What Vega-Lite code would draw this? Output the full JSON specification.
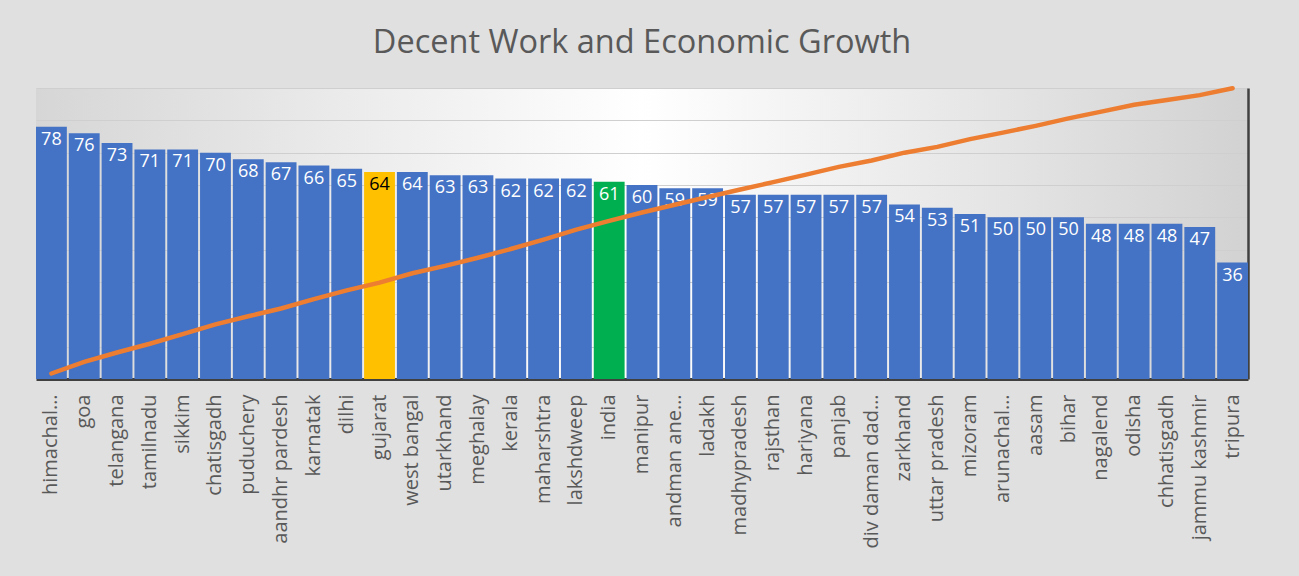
{
  "$schema": "https://vega.github.io/schema/vega-lite/v6.json",
  "width": 1212,
  "height": 291,
  "padding": {"left": 35, "top": 26, "right": 51, "bottom": 32},
  "background": "#e0e0e0",
  "title": {
    "text": "Decent Work and Economic Growth",
    "font": "Open Sans",
    "fontSize": 32.5,
    "fontWeight": "normal",
    "color": "#595959",
    "anchor": "middle",
    "offset": 20
  },
  "config": {
    "view": {
      "stroke": null,
      "fill": {
        "gradient": "linear",
        "x1": 0, "y1": 0, "x2": 1, "y2": 0,
        "stops": [
          {"offset": 0, "color": "#d6d6d6"},
          {"offset": 0.5, "color": "#ffffff"},
          {"offset": 1, "color": "#d2d2d2"}
        ]
      }
    }
  },
  "data": {
    "values": [
      {"name": "himachal…", "score": 78, "trend": 1.7, "highlight": "state"},
      {"name": "goa", "score": 76, "trend": 5.3, "highlight": "state"},
      {"name": "telangana", "score": 73, "trend": 8.2, "highlight": "state"},
      {"name": "tamilnadu", "score": 71, "trend": 10.9, "highlight": "state"},
      {"name": "sikkim", "score": 71, "trend": 13.9, "highlight": "state"},
      {"name": "chatisgadh", "score": 70, "trend": 16.9, "highlight": "state"},
      {"name": "puduchery", "score": 68, "trend": 19.4, "highlight": "state"},
      {"name": "aandhr pardesh", "score": 67, "trend": 21.8, "highlight": "state"},
      {"name": "karnatak", "score": 66, "trend": 24.7, "highlight": "state"},
      {"name": "dilhi", "score": 65, "trend": 27.4, "highlight": "state"},
      {"name": "gujarat", "score": 64, "trend": 29.8, "highlight": "gujarat"},
      {"name": "west bangal", "score": 64, "trend": 32.7, "highlight": "state"},
      {"name": "utarkhand", "score": 63, "trend": 35.0, "highlight": "state"},
      {"name": "meghalay", "score": 63, "trend": 37.5, "highlight": "state"},
      {"name": "kerala", "score": 62, "trend": 40.2, "highlight": "state"},
      {"name": "maharshtra", "score": 62, "trend": 43.1, "highlight": "state"},
      {"name": "lakshdweep", "score": 62, "trend": 46.2, "highlight": "state"},
      {"name": "india", "score": 61, "trend": 48.9, "highlight": "india"},
      {"name": "manipur", "score": 60, "trend": 51.5, "highlight": "state"},
      {"name": "andman ane…", "score": 59, "trend": 53.9, "highlight": "state"},
      {"name": "ladakh", "score": 59, "trend": 56.3, "highlight": "state"},
      {"name": "madhypradesh", "score": 57, "trend": 58.6, "highlight": "state"},
      {"name": "rajsthan", "score": 57, "trend": 60.9, "highlight": "state"},
      {"name": "hariyana", "score": 57, "trend": 63.2, "highlight": "state"},
      {"name": "panjab", "score": 57, "trend": 65.6, "highlight": "state"},
      {"name": "div daman dad…", "score": 57, "trend": 67.6, "highlight": "state"},
      {"name": "zarkhand", "score": 54, "trend": 70.0, "highlight": "state"},
      {"name": "uttar pradesh", "score": 53, "trend": 71.8, "highlight": "state"},
      {"name": "mizoram", "score": 51, "trend": 74.2, "highlight": "state"},
      {"name": "arunachal…", "score": 50, "trend": 76.2, "highlight": "state"},
      {"name": "aasam", "score": 50, "trend": 78.3, "highlight": "state"},
      {"name": "bihar", "score": 50, "trend": 80.6, "highlight": "state"},
      {"name": "nagalend", "score": 48, "trend": 82.7, "highlight": "state"},
      {"name": "odisha", "score": 48, "trend": 84.8, "highlight": "state"},
      {"name": "chhatisgadh", "score": 48, "trend": 86.3, "highlight": "state"},
      {"name": "jammu kashmir", "score": 47, "trend": 87.8, "highlight": "state"},
      {"name": "tripura", "score": 36, "trend": 89.9, "highlight": "state"}
    ]
  },
  "encoding": {
    "x": {
      "field": "name",
      "type": "nominal",
      "sort": null,
      "scale": {"paddingInner": 0.06, "paddingOuter": 0},
      "axis": {
        "title": null,
        "labelAngle": -90,
        "ticks": false,
        "labelPadding": 15,
        "labelFont": "Open Sans",
        "labelFontSize": 20,
        "labelColor": "#595959",
        "labelLimit": 300,
        "domainColor": "#404040",
        "domainWidth": 3,
        "grid": false
      }
    }
  },
  "layer": [
    {
      "mark": {"type": "bar"},
      "encoding": {
        "y": {
          "field": "score",
          "type": "quantitative",
          "scale": {"domain": [0, 90], "nice": false},
          "axis": {
            "title": null,
            "labels": false,
            "ticks": false,
            "domain": false,
            "grid": true,
            "gridColor": "#cfcfcf",
            "gridWidth": 1.2,
            "values": [10, 20, 30, 40, 50, 60, 70, 80, 90]
          }
        },
        "color": {
          "field": "highlight",
          "type": "nominal",
          "scale": {"domain": ["state", "gujarat", "india"], "range": ["#4472C4", "#FFC000", "#00B050"]},
          "legend": null
        }
      }
    },
    {
      "mark": {"type": "text", "baseline": "top", "dy": 4, "font": "Open Sans", "fontSize": 18},
      "encoding": {
        "y": {"field": "score", "type": "quantitative", "scale": {"domain": [0, 90], "nice": false}, "axis": null},
        "text": {"field": "score", "type": "quantitative"},
        "color": {"condition": {"test": "datum.highlight === 'gujarat'", "value": "#000000"}, "value": "#ffffff"}
      }
    },
    {
      "mark": {"type": "line", "color": "#ED7D31", "strokeWidth": 4.5, "strokeCap": "round"},
      "encoding": {
        "y": {
          "field": "trend",
          "type": "quantitative",
          "scale": {"domain": [0, 90], "nice": false},
          "axis": {
            "orient": "right",
            "title": null,
            "labels": false,
            "ticks": false,
            "grid": false,
            "domainColor": "#404040",
            "domainWidth": 2.5
          }
        }
      }
    }
  ],
  "resolve": {"scale": {"y": "independent"}}
}
